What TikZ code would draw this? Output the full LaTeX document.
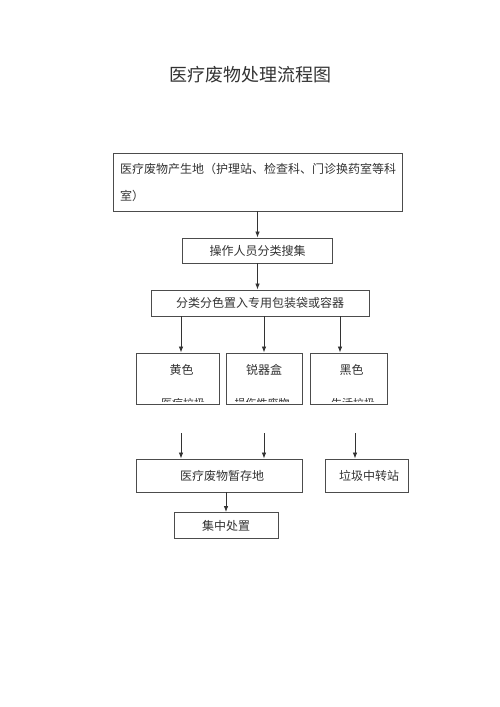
\documentclass[tikz,border=0pt]{standalone}
\usepackage{fontspec}
\newfontfamily\cjk{Noto Sans CJK SC}
\usetikzlibrary{arrows.meta,positioning}

\tikzset{
  wbox/.style={draw=black!70, line width=0.9pt, inner sep=0pt, font=\cjk\fontsize{12}{14}\selectfont, text=black!80},
  wtext/.style={inner sep=0pt, font=\cjk\fontsize{12}{14}\selectfont, text=black!80},
  warrow/.style={draw=black!80, line width=0.8pt, -{Latex[length=6pt,width=4.5pt]}}
}

\begin{document}
\begin{tikzpicture}[x=1pt, y=-1pt]
  %%%%% START %%%%%
  \useasboundingbox[fill=white] (0,0) rectangle (500,707);

  \node[wtext, font=\cjk\fontsize{18}{20}\selectfont] (title) at (250,75) {医疗废物处理流程图};

  \node[wbox, minimum width=289pt, minimum height=58pt, text width=275pt, align=left,
        font=\cjk\fontsize{12}{27}\selectfont] (src) at (257.5,182)
        {医疗废物产生地（护理站、检查科、门诊换药室等科\\室）};
  \node[wbox, minimum width=150pt, minimum height=25pt] (collect) at (257.5,250.5) {操作人员分类搜集};
  \node[wbox, minimum width=218pt, minimum height=26pt] (sort) at (260,303) {分类分色置入专用包装袋或容器};

  %%%%% bins
  \node[wbox, minimum width=83pt, minimum height=51pt] (yellow) at (177.5,378.5) {};
  \node[wbox, minimum width=76pt, minimum height=51pt] (sharp) at (264,378.5) {};
  \node[wbox, minimum width=77pt, minimum height=51pt] (black) at (348.5,378.5) {};
  \node[wtext, below=12pt of yellow.north, xshift=4pt] (yellowlbl) {黄色};
  \node[wtext, below=12pt of sharp.north] (sharplbl) {锐器盒};
  \node[wtext, below=12pt of black.north, xshift=3pt] (blacklbl) {黑色};

  % text running out of the bins
  \begin{scope}
    \clip (136,398) rectangle (387,401);
    \node[wtext, anchor=north, font=\cjk\fontsize{11}{12}\selectfont] (yellowsub) at (183,398) {医疗垃圾};
    \node[wtext, anchor=north, font=\cjk\fontsize{11}{12}\selectfont] (sharpsub) at (262,398) {损伤性废物};
    \node[wtext, anchor=north, font=\cjk\fontsize{11}{12}\selectfont] (blacksub) at (353,398) {生活垃圾};
  \end{scope}

  \node[wbox, minimum width=166pt, minimum height=33pt] (store) at (219,475.5) {\hspace*{6pt}医疗废物暂存地};
  \node[wbox, minimum width=83pt, minimum height=33pt] (trans) at (366.5,475.5) {\hspace*{5pt}垃圾中转站};
  \node[wbox, minimum width=104pt, minimum height=26pt] (final) at (226,525.5) {集中处置};

  \coordinate (ystart) at (181,433);
  \coordinate (sstart) at (264,433);
  \coordinate (bstart) at (355,433);

  %%%%% arrows
  \draw[warrow] (src.south) -- (collect.north);
  \draw[warrow] (collect.south) -- (collect.south |- sort.north);
  \draw[warrow] (sort.south -| 181,0) -- (yellow.north -| 181,0);
  \draw[warrow] (sort.south -| sharp.north) -- (sharp.north);
  \draw[warrow] (sort.south -| 340,0) -- (black.north -| 340,0);
  \draw[warrow] (ystart) -- (store.north -| ystart);
  \draw[warrow] (sstart) -- (store.north -| sstart);
  \draw[warrow] (bstart) -- (trans.north -| bstart);
  \draw[warrow] (store.south -| final.north) -- (final.north);

  %%%%% END %%%%%
\end{tikzpicture}
\end{document}
